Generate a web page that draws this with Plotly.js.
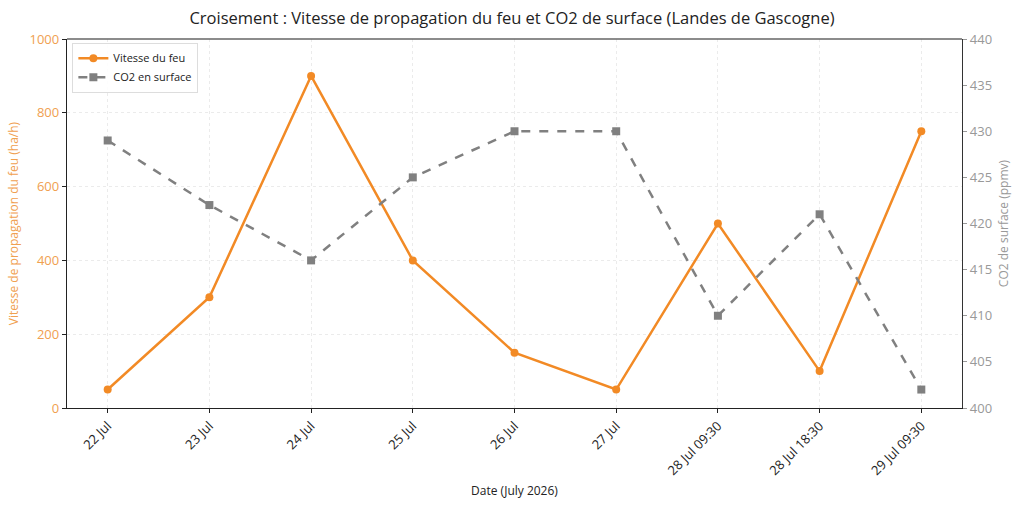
<!DOCTYPE html>
<html>
<head>
<meta charset="utf-8">
<script src="https://cdn.plot.ly/plotly-3.0.1.min.js"></script>
<style>
  html, body { margin: 0; padding: 0; background: #fff; }
  #chart { width: 1024px; height: 508px; }
</style>
</head>
<body>
<div id="chart"></div>
<script>
var dates = ['22 Jul', '23 Jul', '24 Jul', '25 Jul', '26 Jul', '27 Jul',
             '28 Jul 09:30', '28 Jul 18:30', '29 Jul 09:30'];
var fireSpeed = [50, 300, 900, 400, 150, 50, 500, 100, 750];
var co2Surface = [429, 422, 416, 425, 430, 430, 410, 421, 402];

var orange = '#f28a25';
var grey = '#808080';
var font = '"Open Sans", Roboto, "DejaVu Sans", sans-serif';

var traces = [
    {
        x: dates,
        y: fireSpeed,
        name: 'Vitesse du feu',
        type: 'scatter',
        mode: 'lines+markers',
        line: { color: orange, width: 2.5 },
        marker: { color: orange, size: 8, symbol: 'circle' },
        yaxis: 'y'
    },
    {
        x: dates,
        y: co2Surface,
        name: 'CO2 en surface',
        type: 'scatter',
        mode: 'lines+markers',
        line: { color: grey, width: 2.5, dash: 'dash' },
        marker: { color: grey, size: 8, symbol: 'square' },
        yaxis: 'y2'
    }
];

var layout = {
    width: 1024,
    height: 508,
    paper_bgcolor: '#fff',
    plot_bgcolor: '#fff',
    font: { family: font, size: 12, color: '#222' },
    title: {
        text: 'Croisement : Vitesse de propagation du feu et CO2 de surface (Landes de Gascogne)',
        font: { size: 16.5, color: '#222' },
        x: 0.5,
        xanchor: 'center',
        y: 0.965,
        yanchor: 'middle'
    },
    showlegend: true,
    legend: {
        x: 0.006,
        y: 0.99,
        xanchor: 'left',
        yanchor: 'top',
        bgcolor: 'rgba(255,255,255,0.9)',
        bordercolor: '#dddddd',
        borderwidth: 1,
        font: { size: 11, color: '#222' },
        tracegroupgap: 0
    },
    xaxis: {
        type: 'category',
        range: [-0.4, 8.4],
        title: { text: 'Date (July 2026)', font: { size: 12, color: '#222' }, standoff: 8 },
        tickangle: -45,
        tickfont: { size: 13, color: '#222' },
        ticks: 'outside',
        ticklen: 4,
        tickcolor: '#222',
        showline: true,
        linecolor: '#222',
        linewidth: 1.2,
        mirror: false,
        showgrid: true,
        gridcolor: '#ebebeb',
        griddash: 'dot',
        gridwidth: 1,
        zeroline: false
    },
    yaxis: {
        range: [0, 1000],
        tickvals: [0, 200, 400, 600, 800, 1000],
        title: { text: 'Vitesse de propagation du feu (ha/h)', font: { size: 12, color: '#f0a050' }, standoff: 8 },
        tickfont: { size: 13, color: '#f0a050' },
        ticks: 'outside',
        ticklen: 4,
        tickcolor: '#222',
        showline: true,
        linecolor: '#222',
        linewidth: 1.2,
        showgrid: true,
        gridcolor: '#ebebeb',
        griddash: 'dot',
        gridwidth: 1,
        zeroline: false
    },
    yaxis2: {
        overlaying: 'y',
        side: 'right',
        range: [400, 440],
        tickvals: [400, 405, 410, 415, 420, 425, 430, 435, 440],
        title: { text: 'CO2 de surface (ppmv)', font: { size: 12, color: '#999' }, standoff: 8 },
        tickfont: { size: 13, color: '#999' },
        ticks: 'outside',
        ticklen: 4,
        tickcolor: '#999',
        showline: true,
        linecolor: '#333',
        linewidth: 1.2,
        showgrid: false,
        zeroline: false
    },
    shapes: [
        {
            type: 'line', xref: 'paper', yref: 'paper',
            x0: 0, x1: 1, y0: 1, y1: 1,
            line: { color: '#666', width: 1.5 }
        }
    ],
    margin: { l: 67, r: 62, t: 39, b: 100 }
};

Plotly.newPlot('chart', traces, layout, { displayModeBar: false, staticPlot: true });
</script>
</body>
</html>
